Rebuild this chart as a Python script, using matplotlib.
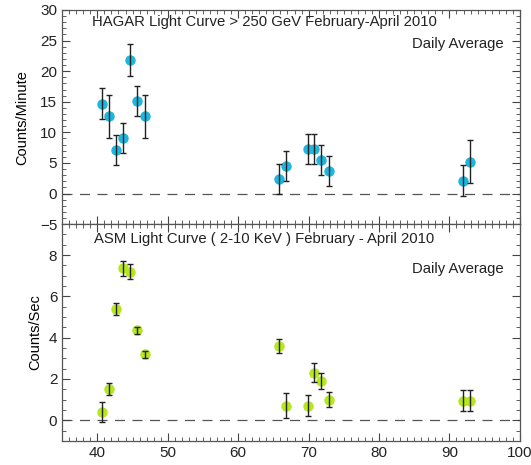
import matplotlib
matplotlib.use("Agg")
import matplotlib.pyplot as plt
from matplotlib.ticker import MultipleLocator

plt.rcParams['font.family'] = ['Liberation Sans', 'DejaVu Sans']

# HAGAR daily averages (> 250 GeV)
hagar_day = [40.7, 41.7, 42.7, 43.7, 44.7, 45.7, 46.7, 65.8, 66.8, 69.9, 70.8, 71.8, 72.9, 91.9, 92.9]
hagar_rate = [14.7, 12.6, 7.1, 9.1, 21.8, 15.1, 12.6, 2.4, 4.5, 7.3, 7.3, 5.5, 3.7, 2.1, 5.2]
hagar_err = [2.5, 3.5, 2.5, 2.5, 2.6, 2.5, 3.5, 2.5, 2.5, 2.5, 2.5, 2.5, 2.5, 2.5, 3.5]

# ASM daily averages (2-10 keV)
asm_day = [40.7, 41.7, 42.7, 43.7, 44.7, 45.7, 46.7, 65.8, 66.8, 69.9, 70.8, 71.8, 72.9, 91.9, 92.9]
asm_rate = [0.4, 1.5, 5.4, 7.35, 7.2, 4.35, 3.2, 3.6, 0.7, 0.7, 2.3, 1.9, 1.0, 0.94, 0.94]
asm_err = [0.5, 0.3, 0.3, 0.37, 0.36, 0.17, 0.17, 0.35, 0.6, 0.52, 0.46, 0.38, 0.35, 0.5, 0.5]

fig = plt.figure(figsize=(5.31, 4.65), dpi=100)
ax1 = fig.add_axes([0.117, 0.518, 0.862, 0.4605])
ax2 = fig.add_axes([0.117, 0.052, 0.862, 0.466])


def style(ax):
    ax.set_xlim(35, 100)
    ax.xaxis.set_major_locator(MultipleLocator(10))
    ax.xaxis.set_minor_locator(MultipleLocator(1))
    ax.tick_params(which='both', direction='in', top=True, right=True,
                   color='#444444', labelsize=11, labelcolor='#222222')
    ax.tick_params(which='major', length=6, width=0.8)
    ax.tick_params(which='minor', length=3, width=0.6)
    for s in ax.spines.values():
        s.set_linewidth(0.9)
        s.set_color('#555555')
    ax.axhline(0, color='#555555', lw=0.9, ls=(0, (8, 6)), zorder=1)


def points(ax, x, y, err, colour):
    ax.plot(x, y, 'o', color=colour, markersize=6.5, zorder=3)
    ax.errorbar(x, y, yerr=err, fmt='none', ecolor='#222222',
                elinewidth=1, capsize=2.5, capthick=1, zorder=4)


style(ax1)
ax1.set_ylim(-5, 30)
ax1.yaxis.set_major_locator(MultipleLocator(5))
ax1.yaxis.set_minor_locator(MultipleLocator(1))
ax1.tick_params(labelbottom=False)
points(ax1, hagar_day, hagar_rate, hagar_err, '#1eb6dc')
ax1.set_ylabel('Counts/Minute', fontsize=10.5, labelpad=8)
ax1.text(0.065, 0.945, 'HAGAR Light Curve > 250 GeV February-April 2010',
         transform=ax1.transAxes, fontsize=10.7, va='center', color='#222222')
ax1.text(0.965, 0.84, 'Daily Average', transform=ax1.transAxes,
         fontsize=10.7, ha='right', va='center', color='#222222')

style(ax2)
ax2.set_ylim(-1, 9.5)
ax2.yaxis.set_major_locator(MultipleLocator(2))
ax2.yaxis.set_minor_locator(MultipleLocator(0.5))
points(ax2, asm_day, asm_rate, asm_err, '#b6e61e')
ax2.set_ylabel('Counts/Sec', fontsize=10.5, labelpad=5)
ax2.text(0.07, 0.93, 'ASM Light Curve ( 2-10 KeV ) February - April 2010',
         transform=ax2.transAxes, fontsize=10.7, va='center', color='#222222')
ax2.text(0.965, 0.795, 'Daily Average', transform=ax2.transAxes,
         fontsize=10.7, ha='right', va='center', color='#222222')

fig.savefig('out.png', dpi=100)
